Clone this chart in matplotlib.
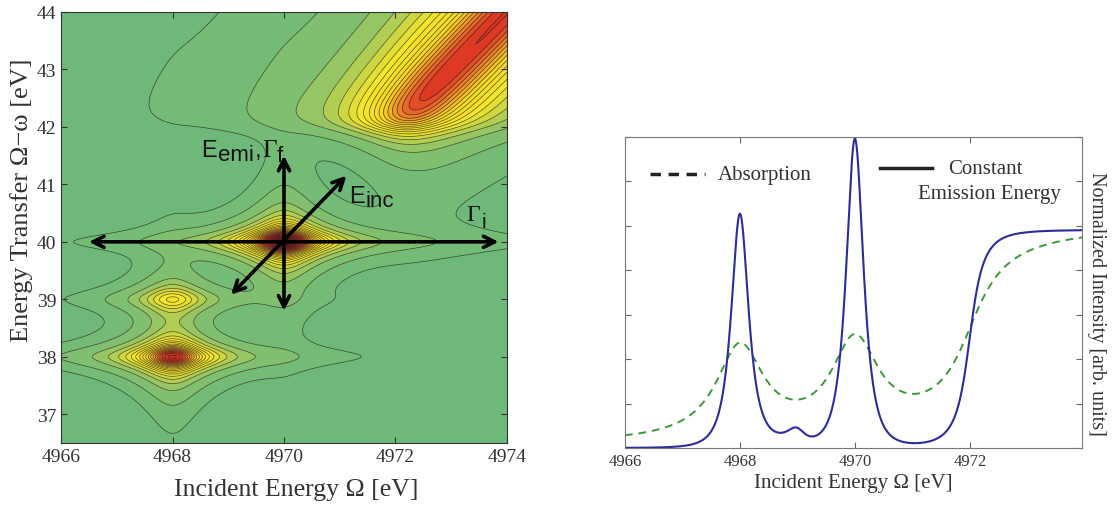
import numpy as np
import matplotlib.pyplot as plt
from matplotlib.colors import LinearSegmentedColormap

# Model parameters (peak positions, heights, widths)
BOUND_OMEGA = [4968.0, 4968.0, 4970.0]      # incident energy of bound states [eV]
BOUND_TRANSFER = [38.0, 39.0, 40.0]         # energy transfer of final states [eV]
BOUND_AMP = [5.2, 1.8, 6.95]
EDGE_OMEGA = 4972.0                          # continuum onset
EDGE_TRANSFER = 42.0
EDGE_DENSITY = 9.9
GAMMA_I = 0.5                                # intermediate-state HWHM [eV]
GAMMA_I_CONT = 0.75                          # continuum intermediate HWHM [eV]
GAMMA_F = 0.2                                # final-state HWHM [eV]
EMISSION_CUT = 4930.0                        # constant emission energy of the cut

# Absorption (dashed) spectrum
ABS_CENTERS = [4968.0, 4970.0]
ABS_HEIGHTS = [2.05, 2.05]
ABS_STEP = 5.1

# contour levels: one faint outer one, then evenly spaced
LOW_LEVELS = [0.13]
LEVEL_START = 0.3
LEVEL_STEP = 0.27

X_TICKS_MAP = [4966, 4968, 4970, 4972, 4974]
Y_TICKS_MAP = [37, 38, 39, 40, 41, 42, 43, 44]
X_TICKS_CUT = [4966, 4968, 4970, 4972]

SANS = "Liberation Sans"
SERIF = "Liberation Serif"


def lor(x, g):
    return 1.0 / (1.0 + (x / g) ** 2)


def rixs(omega, transfer):
    """Kramers-Heisenberg style intensity: bound states plus an edge continuum."""
    out = np.zeros(np.broadcast(omega, transfer).shape)
    for e, t, a in zip(BOUND_OMEGA, BOUND_TRANSFER, BOUND_AMP):
        out += a * lor(omega - e, GAMMA_I) * lor(transfer - t, GAMMA_F)
    de = 0.01
    for e in np.arange(EDGE_OMEGA, EDGE_OMEGA + 12, de):
        shift = EDGE_TRANSFER + (e - EDGE_OMEGA)
        out += EDGE_DENSITY * de * lor(omega - e, GAMMA_I_CONT) * lor(transfer - shift, GAMMA_F)
    return out


def absorption(omega):
    out = np.zeros_like(omega)
    for c, h in zip(ABS_CENTERS, ABS_HEIGHTS):
        out += h * lor(omega - c, GAMMA_I)
    out += ABS_STEP * (0.5 + np.arctan((omega - EDGE_OMEGA) / GAMMA_I) / np.pi)
    return out


def chained_label(ax, x, y, parts):
    """Write text pieces one after another; dy (points) shifts each piece vs the previous."""
    text, fam, size, _ = parts[0]
    prev = ax.text(x, y, text, family=fam, fontsize=size, ha="left", va="baseline",
                   color="#111111")
    for text, fam, size, dy in parts[1:]:
        prev = ax.annotate(text, xy=(1, 0), xycoords=prev, xytext=(0.5, dy),
                           textcoords="offset points", family=fam, fontsize=size,
                           ha="left", va="bottom", color="#111111")


plt.rcParams["font.family"] = [SERIF, "DejaVu Serif"]

fig = plt.figure(figsize=(11.12, 5.06), dpi=100)
ax1 = fig.add_axes([0.0549, 0.1225, 0.401, 0.852])
ax2 = fig.add_axes([0.562, 0.1126, 0.411, 0.6146])

# ---- left: RIXS map ----
om = np.linspace(4966, 4974, 401)
tr = np.linspace(36.5, 44, 376)
OM, TR = np.meshgrid(om, tr)
Z = rixs(OM, TR)
zmax = Z.max()

cmap = LinearSegmentedColormap.from_list("rixs", [
    (0.0, "#6cb87a"), (0.04, "#78bc74"), (0.08, "#8ac26a"), (0.13, "#abcb58"),
    (0.19, "#d8db3b"), (0.26, "#f5e72a"), (0.42, "#f5d626"), (0.52, "#f0a026"),
    (0.60, "#e86a28"), (0.67, "#e03c24"), (0.82, "#c4241c"), (1.0, "#841212")])
levels = np.concatenate([[0.0], LOW_LEVELS, np.arange(LEVEL_START, zmax, LEVEL_STEP), [zmax]])
ax1.contourf(OM, TR, Z, levels=levels, cmap=cmap, vmin=0, vmax=zmax)
ax1.contour(OM, TR, Z, levels=levels[1:-1], colors="#202020", linewidths=0.5, alpha=0.75)

arrow = dict(arrowstyle="<->", lw=2.6, color="black", mutation_scale=20, shrinkA=0, shrinkB=0)
ax1.annotate("", xy=(4966.5, 40), xytext=(4973.85, 40), arrowprops=arrow)
ax1.annotate("", xy=(4970, 38.8), xytext=(4970, 41.5), arrowprops=arrow)
ax1.annotate("", xy=(4969.05, 39.08), xytext=(4971.12, 41.15), arrowprops=arrow)

chained_label(ax1, 4968.52, 41.5, [("E", SANS, 17, 0), ("emi", SANS, 16, -3.5),
                                    (",", SANS, 17, 3.5), ("\u0393", SERIF, 18, 0),
                                    ("f", SANS, 16, -4)])
chained_label(ax1, 4971.17, 40.7, [("E", SANS, 17, 0), ("inc", SANS, 16, -3.5)])
chained_label(ax1, 4973.28, 40.38, [("\u0393", SERIF, 17, 0), ("i", SANS, 15, -4)])

ax1.set_xlim(4966, 4974)
ax1.set_ylim(36.5, 44)
ax1.set_xticks(X_TICKS_MAP)
ax1.set_yticks(Y_TICKS_MAP)
ax1.tick_params(direction="in", top=True, right=True, labelsize=14, length=4,
                colors="#333333", labelcolor="#333333")
ax1.set_xlabel("Incident Energy \u03a9 [eV]", fontsize=18.5, color="#333333")
ax1.xaxis.set_label_coords(0.528, -0.081)
ax1.set_ylabel("Energy Transfer \u03a9\u2212\u03c9 [eV]", fontsize=19, color="#333333")
ax1.yaxis.set_label_coords(-0.062, 0.566)
for s in ax1.spines.values():
    s.set_color("#333333")

# ---- right: constant emission energy cut vs absorption ----
x = np.linspace(4966, 4974, 1601)
cut = rixs(x, x - EMISSION_CUT)
ax2.plot(x, absorption(x), ls=(0, (4, 3)), color="#3a9a3a", lw=1.4)
ax2.plot(x, cut, color="#2c2c9c", lw=1.5)

ax2.plot([0.055, 0.175], [0.881, 0.881], transform=ax2.transAxes, color="#222222",
         lw=2.5, ls=(0, (3, 2.2)))
ax2.text(0.204, 0.881, "Absorption", transform=ax2.transAxes, fontsize=15,
         va="center", ha="left", color="#333333")
ax2.plot([0.558, 0.672], [0.9, 0.9], transform=ax2.transAxes, color="#222222", lw=2.5)
ax2.text(0.789, 0.9, "Constant", transform=ax2.transAxes, fontsize=15,
         va="center", ha="center", color="#333333")
ax2.text(0.797, 0.817, "Emission Energy", transform=ax2.transAxes, fontsize=15,
         va="center", ha="center", color="#333333")

ax2.set_xlim(4966, 4973.95)
ax2.set_ylim(0, 7)
ax2.set_xticks(X_TICKS_CUT)
ax2.set_yticks(range(8))
ax2.set_yticklabels([])
ax2.tick_params(direction="in", top=True, right=True, labelsize=12, length=4,
                colors="#666666", labelcolor="#333333")
ax2.set_xlabel("Incident Energy \u03a9 [eV]", fontsize=15, color="#333333", labelpad=3)
ax2.yaxis.set_label_position("right")
ax2.set_ylabel("Normalized Intensity [arb. units]", fontsize=14.5, rotation=270,
               color="#333333")
ax2.yaxis.set_label_coords(1.053, 0.466)
for s in ax2.spines.values():
    s.set_color("#777777")

fig.savefig("out.png", dpi=100)
